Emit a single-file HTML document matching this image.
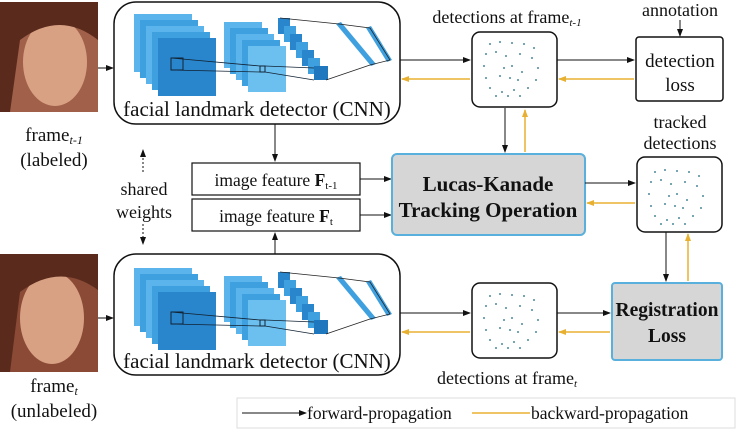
<!DOCTYPE html>
<html><head><meta charset="utf-8"><style>
body{margin:0;background:#fff;}
svg text{font-family:"Liberation Serif",serif;fill:#111;}
</style></head><body>
<svg width="740" height="432" viewBox="0 0 740 432" xmlns="http://www.w3.org/2000/svg" font-family="Liberation Serif, serif">
<defs>
<marker id="ab" markerWidth="8" markerHeight="8" refX="7" refY="4" orient="auto" markerUnits="userSpaceOnUse"><path d="M0,1 L8,4 L0,7z" fill="#111"/></marker>
<marker id="ao" markerWidth="8" markerHeight="8" refX="7" refY="4" orient="auto" markerUnits="userSpaceOnUse"><path d="M0,1 L8,4 L0,7z" fill="#e8b030"/></marker>
<g id="cnn">
 <rect x="20" y="12" width="58" height="58" fill="#5cb4ec"/>
 <rect x="26" y="18" width="58" height="58" fill="#3fa0e0"/>
 <rect x="32" y="24" width="58" height="58" fill="#5cb4ec"/>
 <rect x="38" y="30" width="58" height="58" fill="#3fa0e0"/>
 <rect x="44" y="36" width="58" height="58" fill="#2a86cc"/>
 <rect x="110" y="20" width="38" height="46" fill="#5cb4ec"/>
 <rect x="116" y="26" width="38" height="46" fill="#3fa0e0"/>
 <rect x="122" y="32" width="38" height="46" fill="#5cb4ec"/>
 <rect x="128" y="38" width="38" height="46" fill="#3fa0e0"/>
 <rect x="134" y="44" width="38" height="46" fill="#6cc0f0"/>
 <rect x="164" y="16" width="12" height="16" fill="#2a86cc"/>
 <rect x="170" y="24" width="12" height="16" fill="#3fa0e0"/>
 <rect x="176" y="32" width="12" height="16" fill="#2a86cc"/>
 <rect x="182" y="40" width="12" height="16" fill="#3fa0e0"/>
 <rect x="188" y="48" width="12" height="16" fill="#2a86cc"/>
 <rect x="194" y="56" width="12" height="16" fill="#3fa0e0"/>
 <rect x="200" y="64" width="14" height="14" fill="#1f78be"/>
 <polygon points="222,22 227,20 262,62 257,64" fill="#3fa0e0"/>
 <polygon points="252,26 257,24 278,58 273,60" fill="#3fa0e0"/>
 <polyline points="166,16 225,22 256,26 276,58 256,63 212,78" fill="none" stroke="#222" stroke-width="0.8"/>
 <rect x="57" y="56" width="12" height="12" fill="none" stroke="#123" stroke-width="1"/>
 <rect x="146" y="64" width="5" height="6" fill="none" stroke="#123" stroke-width="1"/>
 <line x1="57" y1="56" x2="146" y2="64" stroke="#123" stroke-width="0.8"/>
 <line x1="57" y1="68" x2="146" y2="70" stroke="#123" stroke-width="0.8"/>
 <line x1="151" y1="64" x2="200" y2="66" stroke="#123" stroke-width="0.8"/>
 <line x1="151" y1="70" x2="200" y2="78" stroke="#123" stroke-width="0.8"/>
</g>
<g id="dots" fill="#4a8a9a">
 <circle cx="18" cy="12" r="1"/><circle cx="28" cy="10" r="1"/><circle cx="40" cy="11" r="1"/><circle cx="52" cy="12" r="1"/><circle cx="62" cy="16" r="1"/>
 <circle cx="14" cy="22" r="1"/><circle cx="24" cy="20" r="1"/><circle cx="34" cy="24" r="1"/><circle cx="48" cy="22" r="1"/><circle cx="60" cy="26" r="1"/>
 <circle cx="12" cy="34" r="1"/><circle cx="32" cy="36" r="1"/><circle cx="40" cy="34" r="1"/><circle cx="50" cy="40" r="1"/><circle cx="66" cy="36" r="1"/>
 <circle cx="14" cy="46" r="1"/><circle cx="28" cy="44" r="1"/><circle cx="38" cy="46" r="1"/><circle cx="46" cy="48" r="1"/><circle cx="64" cy="48" r="1"/>
 <circle cx="18" cy="56" r="1"/><circle cx="30" cy="60" r="1"/><circle cx="42" cy="58" r="1"/><circle cx="56" cy="56" r="1"/><circle cx="36" cy="64" r="1"/><circle cx="48" cy="64" r="1"/><circle cx="24" cy="64" r="1"/>
</g>
</defs>

<!-- faces -->
<rect x="0" y="2" width="98" height="110" fill="#a0604a"/>
<ellipse cx="55" cy="62" rx="32" ry="44" fill="#d9a184"/>
<path d="M0,2 H98 V40 Q60,10 20,40 L10,112 H0z" fill="#5a2a1c"/>
<rect x="0" y="254" width="98" height="118" fill="#8a4a36"/>
<ellipse cx="52" cy="318" rx="32" ry="46" fill="#d9a184"/>
<path d="M0,254 H98 V290 Q60,262 20,292 L10,372 H0z" fill="#5a2a1c"/>

<text x="54" y="141" font-size="19" text-anchor="middle">frame<tspan font-size="12" font-style="italic" dy="3">t-1</tspan></text>
<text x="54" y="166" font-size="19" text-anchor="middle">(labeled)</text>
<text x="54" y="392" font-size="19" text-anchor="middle">frame<tspan font-size="12" font-style="italic" dy="3">t</tspan></text>
<text x="54" y="417" font-size="19" text-anchor="middle">(unlabeled)</text>
<text x="144" y="195" font-size="18" text-anchor="middle">shared</text>
<text x="144" y="218" font-size="18" text-anchor="middle">weights</text>
<line x1="143" y1="172" x2="143" y2="150" stroke="#111" stroke-dasharray="2,2" marker-end="url(#ab)"/>
<line x1="143" y1="224" x2="143" y2="244" stroke="#111" stroke-dasharray="2,2" marker-end="url(#ab)"/>

<!-- CNN boxes -->
<rect x="114" y="2" width="286" height="122" rx="22" fill="#fff" stroke="#111" stroke-width="1.5"/>
<use href="#cnn" x="114" y="2"/>
<text x="257" y="116" font-size="21" text-anchor="middle">facial landmark detector (CNN)</text>
<rect x="114" y="254" width="286" height="121" rx="22" fill="#fff" stroke="#111" stroke-width="1.5"/>
<use href="#cnn" x="114" y="256"/>
<text x="257" y="368" font-size="21" text-anchor="middle">facial landmark detector (CNN)</text>
<line x1="98" y1="68" x2="113" y2="68" stroke="#111" marker-end="url(#ab)"/>
<line x1="98" y1="318" x2="113" y2="318" stroke="#111" marker-end="url(#ab)"/>

<!-- feature boxes -->
<rect x="192" y="163" width="168" height="32" fill="#fff" stroke="#111" stroke-width="1.2"/>
<text x="276" y="186" font-size="17.5" text-anchor="middle">image feature <tspan font-weight="bold">F</tspan><tspan font-size="11" dy="3">t-1</tspan></text>
<rect x="192" y="199" width="168" height="32" fill="#fff" stroke="#111" stroke-width="1.2"/>
<text x="276" y="222" font-size="17.5" text-anchor="middle">image feature <tspan font-weight="bold">F</tspan><tspan font-size="11" dy="3">t</tspan></text>
<line x1="275" y1="124" x2="275" y2="161" stroke="#111" marker-end="url(#ab)"/>
<line x1="275" y1="254" x2="275" y2="233" stroke="#111" marker-end="url(#ab)"/>
<line x1="360" y1="179" x2="391" y2="179" stroke="#111" marker-end="url(#ab)"/>
<line x1="360" y1="215" x2="391" y2="215" stroke="#111" marker-end="url(#ab)"/>

<!-- LK -->
<rect x="392" y="154" width="193" height="81" rx="5" fill="#d6d6d6" stroke="#5ab0dc" stroke-width="2"/>
<text x="488" y="191" font-size="21" font-weight="bold" text-anchor="middle">Lucas-Kanade</text>
<text x="488" y="217" font-size="21" font-weight="bold" text-anchor="middle">Tracking Operation</text>

<!-- det t-1 -->
<text x="507" y="23" font-size="18" text-anchor="middle">detections at frame<tspan font-size="11" font-style="italic" dy="3">t-1</tspan></text>
<rect x="472" y="32" width="85" height="75" rx="8" fill="#fff" stroke="#111" stroke-width="1.5"/>
<use href="#dots" x="472" y="32"/>
<line x1="400" y1="60" x2="470" y2="60" stroke="#111" marker-end="url(#ab)"/>
<line x1="470" y1="79" x2="402" y2="79" stroke="#e8b030" stroke-width="1.5" marker-end="url(#ao)"/>
<line x1="557" y1="60" x2="634" y2="60" stroke="#111" marker-end="url(#ab)"/>
<line x1="634" y1="79" x2="559" y2="79" stroke="#e8b030" stroke-width="1.5" marker-end="url(#ao)"/>
<line x1="505" y1="108" x2="505" y2="152" stroke="#111" marker-end="url(#ab)"/>
<line x1="525" y1="152" x2="525" y2="110" stroke="#e8b030" stroke-width="1.5" marker-end="url(#ao)"/>

<!-- detection loss -->
<text x="680" y="16" font-size="18" text-anchor="middle">annotation</text>
<line x1="680" y1="20" x2="680" y2="36" stroke="#111" marker-end="url(#ab)"/>
<rect x="636" y="37" width="87" height="64" rx="3" fill="#fff" stroke="#111" stroke-width="1.5"/>
<text x="680" y="67" font-size="19" text-anchor="middle">detection</text>
<text x="680" y="91" font-size="19" text-anchor="middle">loss</text>

<!-- tracked -->
<text x="680" y="128" font-size="18" text-anchor="middle">tracked</text>
<text x="680" y="149" font-size="18" text-anchor="middle">detections</text>
<rect x="637" y="157" width="85" height="75" rx="8" fill="#fff" stroke="#111" stroke-width="1.5"/>
<use href="#dots" x="637" y="160"/>
<line x1="585" y1="183" x2="635" y2="183" stroke="#111" marker-end="url(#ab)"/>
<line x1="635" y1="203" x2="587" y2="203" stroke="#e8b030" stroke-width="1.5" marker-end="url(#ao)"/>
<line x1="666" y1="232" x2="666" y2="281" stroke="#111" marker-end="url(#ab)"/>
<line x1="688" y1="281" x2="688" y2="234" stroke="#e8b030" stroke-width="1.5" marker-end="url(#ao)"/>

<!-- registration -->
<rect x="612" y="283" width="110" height="77" rx="3" fill="#d6d6d6" stroke="#5ab0dc" stroke-width="2"/>
<text x="667" y="316" font-size="19.5" font-weight="bold" text-anchor="middle">Registration</text>
<text x="667" y="342" font-size="19.5" font-weight="bold" text-anchor="middle">Loss</text>

<!-- det t -->
<rect x="472" y="283" width="85" height="75" rx="8" fill="#fff" stroke="#111" stroke-width="1.5"/>
<use href="#dots" x="472" y="284"/>
<text x="507" y="384" font-size="18" text-anchor="middle">detections at frame<tspan font-size="11" font-style="italic" dy="3">t</tspan></text>
<line x1="400" y1="313" x2="470" y2="313" stroke="#111" marker-end="url(#ab)"/>
<line x1="470" y1="332" x2="402" y2="332" stroke="#e8b030" stroke-width="1.5" marker-end="url(#ao)"/>
<line x1="557" y1="313" x2="610" y2="313" stroke="#111" marker-end="url(#ab)"/>
<line x1="610" y1="332" x2="559" y2="332" stroke="#e8b030" stroke-width="1.5" marker-end="url(#ao)"/>

<!-- legend -->
<rect x="237" y="398" width="498" height="30" fill="#fff" stroke="#ddd" stroke-width="1"/>
<line x1="242" y1="413" x2="306" y2="413" stroke="#111" marker-end="url(#ab)"/>
<text x="307" y="419" font-size="17.5">forward-propagation</text>
<line x1="472" y1="413" x2="530" y2="413" stroke="#e8b030" stroke-width="1.5"/>
<text x="531" y="419" font-size="17.5">backward-propagation</text>
</svg>
</body></html>
